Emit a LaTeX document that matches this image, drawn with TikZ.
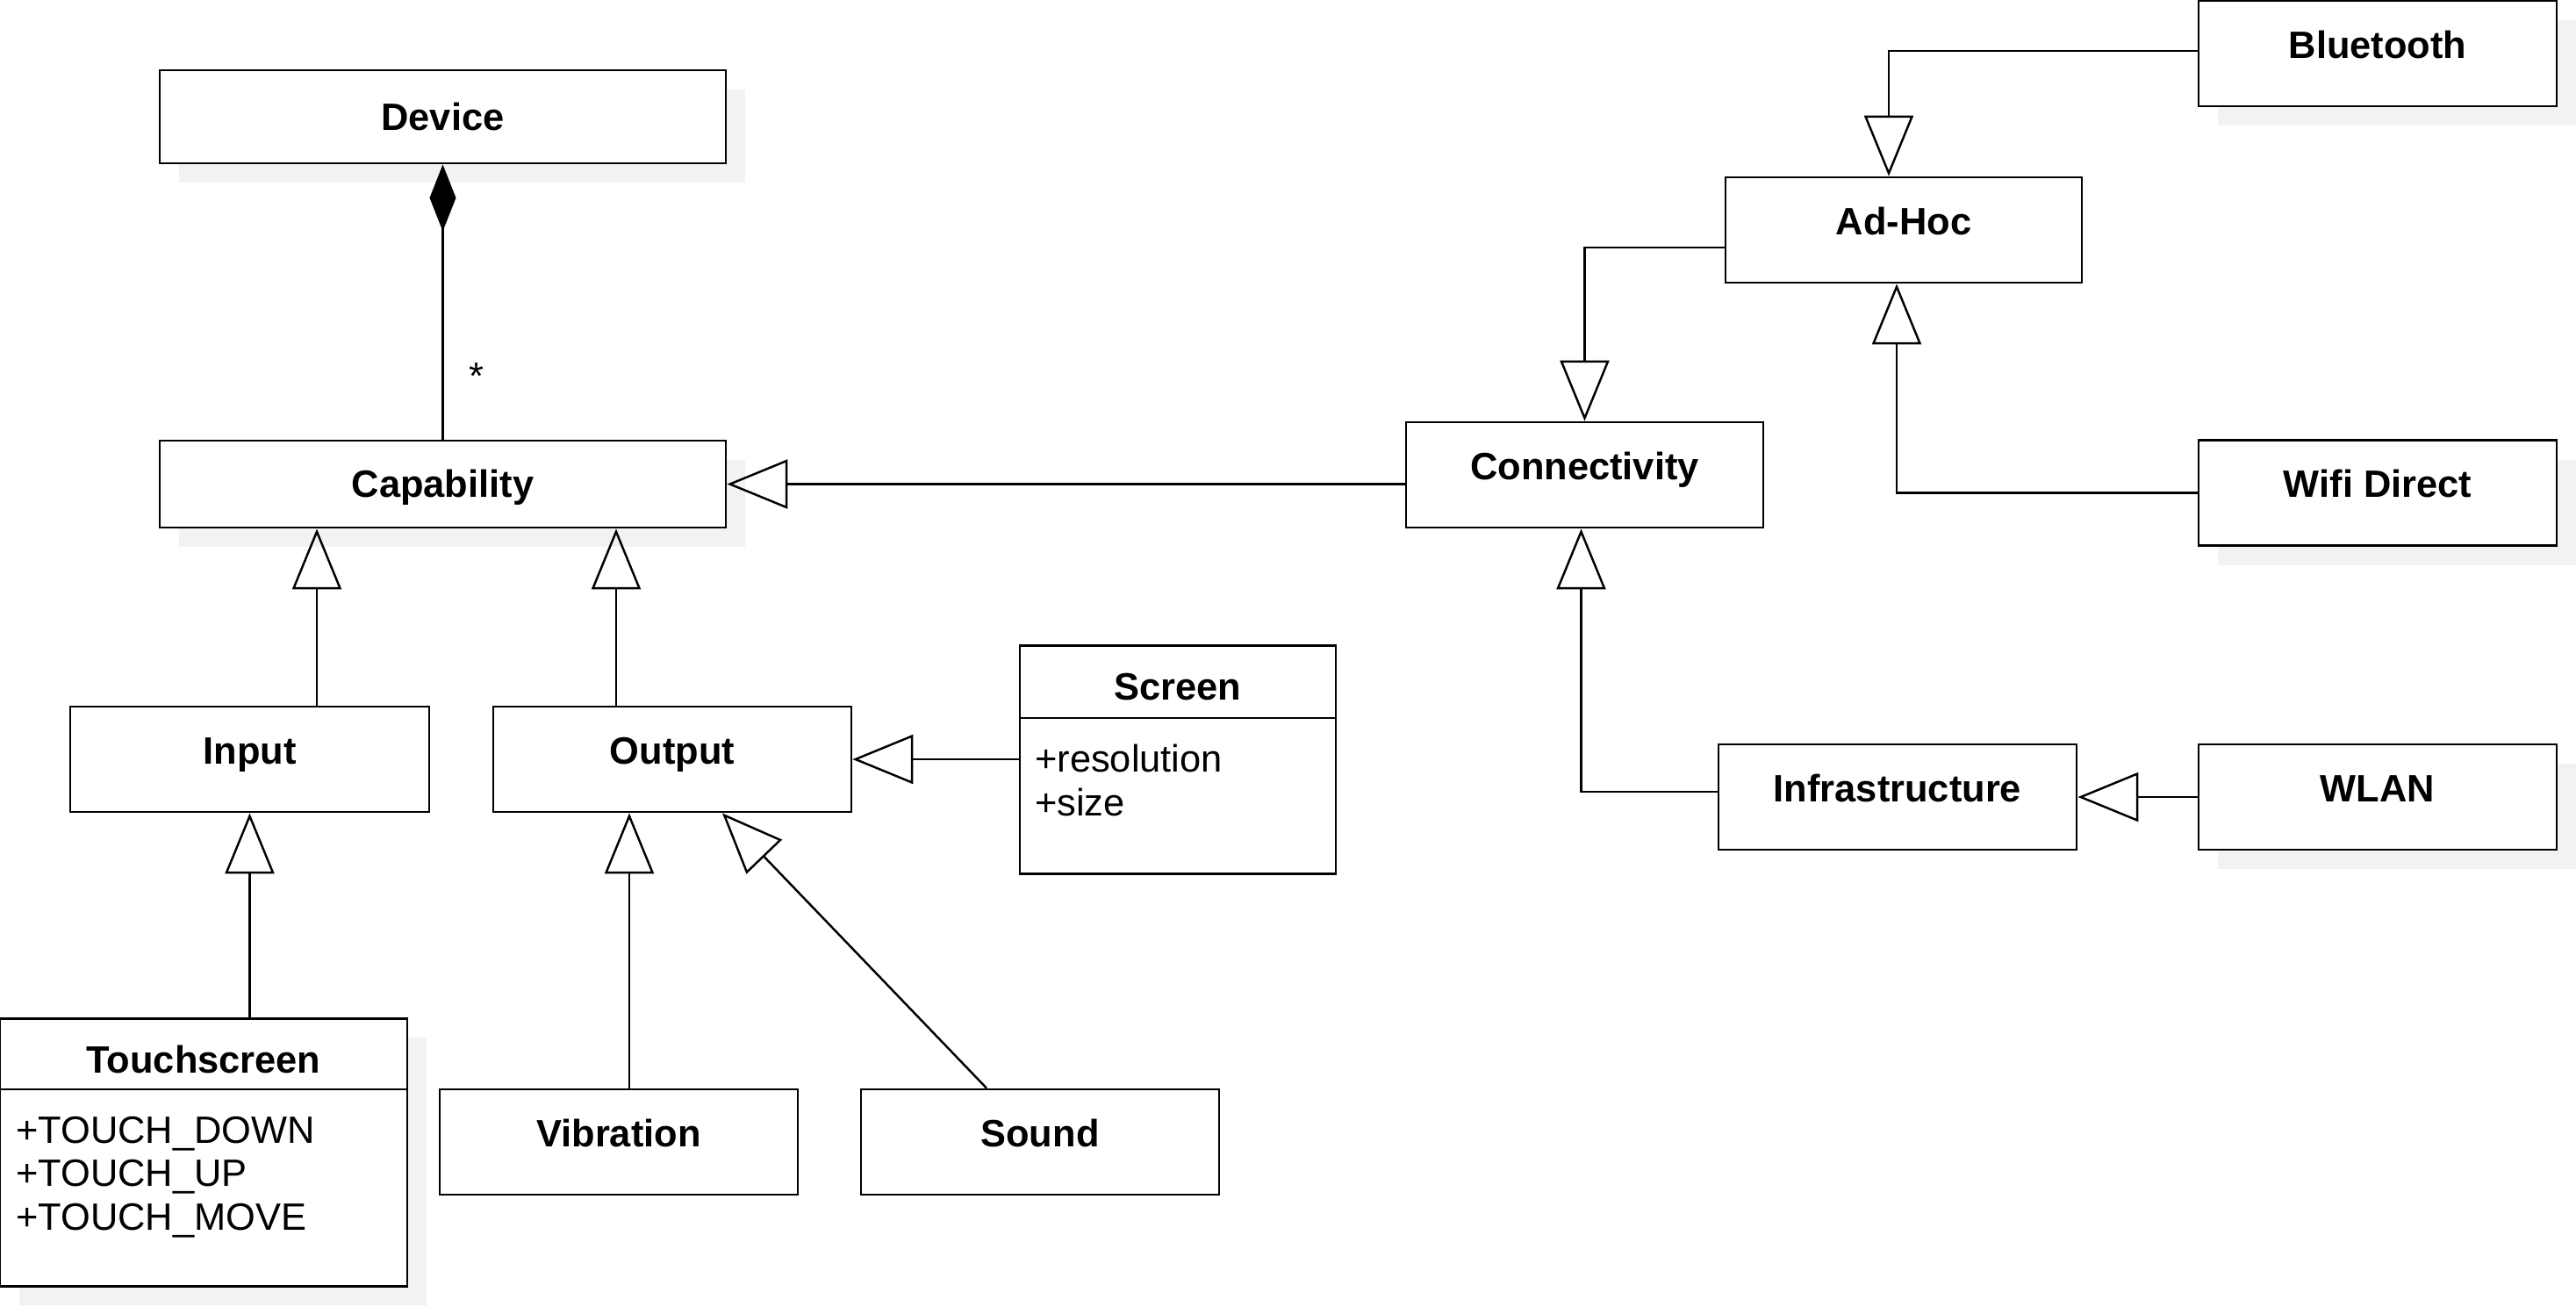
\documentclass[tikz,border=0pt]{standalone}
\usepackage{fontspec}
\setmainfont{Liberation Sans}
\usetikzlibrary{arrows.meta,shadows}
\newcommand{\umlfont}{\fontsize{12.35pt}{14.2pt}\selectfont}

\begin{document}
\begin{tikzpicture}[x=1cm,y=1cm,font=\umlfont,
    cls/.style={draw,line width=0.8pt,fill=white,minimum width=4.08cm,minimum height=1.2cm,
        font=\umlfont\bfseries,text height=0.3cm,text depth=0.2cm},
    shade/.style={drop shadow={shadow xshift=0.22cm,shadow yshift=-0.22cm,fill=black!5,opacity=1}},
    title/.style={font=\umlfont\bfseries,inner sep=0pt},
    attrs/.style={anchor=north west,align=left,inner sep=0pt},
    gen/.style={line width=0.7pt,-{Triangle[open,width=0.56cm,length=0.69cm]}},
    comp/.style={line width=0.7pt,{Diamond[width=0.3cm,length=0.76cm]}-}]
    \useasboundingbox (0,0) rectangle (29.35,-14.88);

    % left part
    \node[cls,shade,minimum width=6.45cm,minimum height=1.06cm,text depth=0pt] (device) at (5.045,-1.33) {Device};
    \node[cls,shade,minimum width=6.45cm,minimum height=0.99cm,text depth=0pt] (capability) at (5.045,-5.515) {Capability};
    \node[cls,minimum width=4.09cm] (input) at (2.845,-8.65) {Input};
    \node[cls] (output) at (7.66,-8.65) {Output};
    \node[cls,shade,minimum width=4.64cm,minimum height=3.05cm,anchor=north] (touch) at (2.32,-11.59) {};
    \node[title] (touch name) at ([yshift=-0.48cm]touch.north) {Touchscreen};
    \draw[line width=0.8pt] ([yshift=-0.82cm]touch.north west) -- ([yshift=-0.82cm]touch.north east);
    \node[attrs] (touch list) at ([xshift=0.19cm,yshift=-1.12cm]touch.north west) {+TOUCH\_DOWN\\+TOUCH\_UP\\+TOUCH\_MOVE};
    \node[cls] (vibration) at (7.05,-13.01) {Vibration};
    \node[cls] (sound) at (11.85,-13.01) {Sound};
    \node[cls,minimum width=3.6cm,minimum height=2.6cm,anchor=north] (screen) at (13.42,-7.34) {};
    \node[title] (screen name) at ([yshift=-0.49cm]screen.north) {Screen};
    \draw[line width=0.8pt] ([yshift=-0.84cm]screen.north west) -- ([yshift=-0.84cm]screen.north east);
    \node[attrs] (screen list) at ([xshift=0.18cm,yshift=-1.13cm]screen.north west) {+resolution\\+size};

    % right part
    \node[cls,minimum width=4.07cm] (connectivity) at (18.055,-5.41) {Connectivity};
    \node[cls,minimum width=4.06cm] (adhoc) at (21.69,-2.62) {Ad-Hoc};
    \node[cls] (infra) at (21.62,-9.08) {Infrastructure};
    \node[cls,shade] (bluetooth) at (27.09,-0.61) {Bluetooth};
    \node[cls,shade] (wifi) at (27.09,-5.615) {Wifi Direct};
    \node[cls,shade] (wlan) at (27.09,-9.08) {WLAN};

    \draw[comp] (device.south) -- (capability.north);
    \node (many) at (5.43,-4.29) {*};
    \draw[gen] ([xshift=0.765cm]input.north) -- ([xshift=0.765cm]input.north |- capability.south);
    \draw[gen] ([xshift=-0.64cm]output.north) -- ([xshift=-0.64cm]output.north |- capability.south);
    \draw[gen] (touch.north -| input.south) -- (input.south);
    \draw[gen] ([xshift=0.12cm]vibration.north) -- ([xshift=0.12cm]vibration.north |- output.south);
    \draw[gen] ([xshift=-0.61cm]sound.north) -- ([xshift=0.57cm]output.south);
    \draw[gen] (screen.west |- output.east) -- (output.east);
    \draw[gen] (connectivity.west |- capability.east) -- (capability.east);
    \draw[gen] ([yshift=-0.2cm]adhoc.west) -| (connectivity.north);
    \draw[gen] ([yshift=0.03cm]bluetooth.west) -| ([xshift=-0.17cm]adhoc.north);
    \draw[gen] (wifi.west) -| ([xshift=-0.08cm]adhoc.south);
    \draw[gen] ([yshift=0.06cm]infra.west) -| ([xshift=-0.04cm]connectivity.south);
    \draw[gen] (wlan.west) -- (infra.east);
\end{tikzpicture}
\end{document}
